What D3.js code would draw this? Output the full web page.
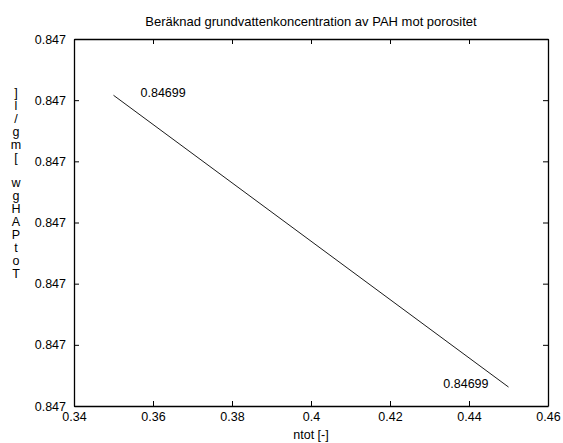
<!DOCTYPE html>
<html><head><meta charset="utf-8">
<script src="https://cdn.jsdelivr.net/npm/d3@7/dist/d3.min.js"></script>
<style>body{margin:0;background:#fff}svg{display:block}text{font-family:"Liberation Sans",Arial,sans-serif;fill:#000}</style>
</head><body>
<svg id="c" width="563" height="443"></svg>
<script>
const title = "Beräknad grundvattenkoncentration av PAH mot porositet";
const xLabel = "ntot [-]";
const yLabel = "TotPAHgw [mg/l]";
const xTicks = [0.34, 0.36, 0.38, 0.40, 0.42, 0.44, 0.46];
const yTicks = [0.8469920, 0.8469921, 0.8469922, 0.8469923, 0.8469924, 0.8469925, 0.8469926];
const porosity = [0.35, 0.45];
const conc = [0.846992508, 0.846992031];
const annotations = ["0.84699", "0.84699"];

const svg = d3.select("#c");
const L = 74, R = 548, T = 39, B = 406;
const x = d3.scaleLinear().domain([0.34, 0.46]).range([L, R]);
const y = d3.scaleLinear().domain([0.8469920, 0.8469926]).range([B, T]);

const fmtX = d => (d === 0.4 ? "0.4" : d3.format(".2f")(d));
const fmtY = d3.format(".3f");
const FS = 12.5;

// axes
const gB = svg.append("g").attr("transform", `translate(0,${B})`)
  .call(d3.axisBottom(x).tickValues(xTicks).tickFormat(fmtX).tickSizeInner(-5).tickSizeOuter(0).tickPadding(6));
const gT = svg.append("g").attr("transform", `translate(0,${T})`)
  .call(d3.axisTop(x).tickValues(xTicks).tickFormat("").tickSizeInner(-5).tickSizeOuter(0));
const gL = svg.append("g").attr("transform", `translate(${L},0)`)
  .call(d3.axisLeft(y).tickValues(yTicks).tickFormat(fmtY).tickSizeInner(-5).tickSizeOuter(0).tickPadding(8));
const gR = svg.append("g").attr("transform", `translate(${R},0)`)
  .call(d3.axisRight(y).tickValues(yTicks).tickFormat("").tickSizeInner(-5).tickSizeOuter(0));
[gB, gT, gL, gR].forEach(g => {
  g.selectAll("path.domain").attr("stroke", "#000").attr("stroke-width", 1.3);
  g.selectAll("line").attr("stroke", "#000");
  g.selectAll("text").attr("font-size", FS).attr("font-family", '"Liberation Sans",Arial,sans-serif').attr("fill", "#000");
});
gB.selectAll("text").attr("dy", "0.71em");

// line
svg.append("path")
  .datum(porosity.map((p, i) => [p, conc[i]]))
  .attr("fill", "none").attr("stroke", "#000").attr("stroke-width", 0.9)
  .attr("d", d3.line().x(d => x(d[0])).y(d => y(d[1])));

// annotations
svg.append("text").attr("x", x(porosity[0]) + 27).attr("y", y(conc[0]) + 2)
  .attr("font-size", FS).text(annotations[0]);
svg.append("text").attr("x", x(porosity[1]) - 20).attr("y", y(conc[1]) + 1)
  .attr("text-anchor", "end").attr("font-size", FS).text(annotations[1]);

// title
svg.append("text").attr("x", (L + R) / 2).attr("y", 26).attr("text-anchor", "middle")
  .attr("font-size", 13).text(title);
// x label
svg.append("text").attr("x", (L + R) / 2).attr("y", 439).attr("text-anchor", "middle")
  .attr("font-size", FS).text(xLabel);
// y label: stacked characters, reversed
const chars = yLabel.split("").reverse();
svg.append("g").selectAll("text").data(chars).join("text")
  .attr("x", 16).attr("y", (d, i) => 97 + i * 12.9)
  .attr("text-anchor", "middle").attr("font-size", FS).text(d => d);
</script>
</body></html>
